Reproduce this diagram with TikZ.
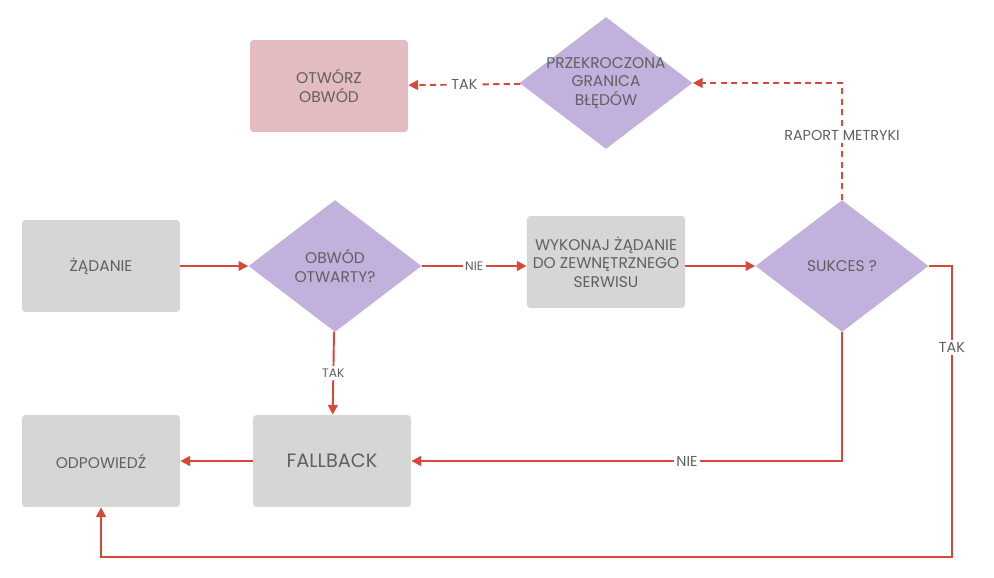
\documentclass[tikz,border=0pt]{standalone}
\usepackage{fontspec}
\setmainfont{Poppins}
\usepackage{tikz}
\usepackage{xcolor}
\usetikzlibrary{shapes.geometric, arrows.meta}
\definecolor{flowred}{RGB}{214, 72, 58}
\definecolor{boxgrey}{RGB}{214, 214, 214}
\definecolor{decpurple}{RGB}{195, 177, 221}
\definecolor{alarmpink}{RGB}{226, 188, 193}
\definecolor{txtgrey}{RGB}{96, 96, 96}

\begin{document}
\begin{tikzpicture}[
    x=0.02cm, y=-0.02cm,
    font=\fontsize{8.8}{10.6}\selectfont,
    text=txtgrey,
    step box/.style={rectangle, rounded corners=2pt, fill=#1,
        minimum width=3.16cm, minimum height=1.84cm, align=center},
    step box/.default=boxgrey,
    decision/.style={diamond, fill=decpurple, inner sep=0pt,
        minimum width=3.46cm, minimum height=2.64cm,
        label={[align=center, text=txtgrey]center:#1}},
    flow/.style={draw=flowred, line width=1.1pt,
        -{Triangle[length=5.5pt, width=5.5pt]}},
    report/.style={flow, dash pattern=on 3.5pt off 2.5pt},
    tag/.style={fill=white, inner sep=1.5pt, font=\fontsize{8.2}{9}\selectfont},
    small tag/.style={tag, font=\fontsize{7}{8}\selectfont}
]
    \useasboundingbox (0,0) rectangle (994,578);

    % ==========================================
    % MAIN ROW
    % ==========================================
    \node[step box] (request) at (101,266) {ŻĄDANIE};
    \node[decision={OBWÓD\\OTWARTY?}] (isopen) at (335,266) {};
    \node[step box] (call) at (606,262) {WYKONAJ ŻĄDANIE\\DO ZEWNĘTRZNEGO\\SERWISU};
    \node[decision={SUKCES ?}] (success) at (842,266) {};

    % ==========================================
    % TOP ROW (metrics)
    % ==========================================
    \node[decision={PRZEKROCZONA\\GRANICA\\BŁĘDÓW}] (limit) at (606,83) {};
    \node[step box=alarmpink] (trip) at (329,86) {OTWÓRZ\\OBWÓD};

    % ==========================================
    % BOTTOM ROW
    % ==========================================
    \node[step box] (answer) at (101,461) {ODPOWIEDŹ};
    \node[step box] (fallback) at (332,461) {\fontsize{11}{13}\selectfont FALLBACK};

    \coordinate (loop_r) at (952,557);

    % ==========================================
    % CONNECTORS
    % ==========================================
    \draw[flow] (request) -- (isopen);
    \draw[flow] (isopen) -- node[small tag] {NIE} (isopen -| call.west);
    \draw[flow] (call.east |- success) -- (success);
    \draw[flow] (isopen) -- node[small tag] {TAK} (fallback);
    \draw[flow] (fallback) -- (answer);

    % Sukces: NIE -> fallback
    \draw[flow] (success.south) |- node[tag, pos=0.68] {NIE} (fallback.east);

    % Sukces: TAK -> odpowiedz
    \draw[flow] (success.east) -| node[tag, pos=0.64] {TAK} (loop_r) -| (answer.south);

    % Metrics (dashed)
    \draw[report] (success.north) |- node[tag, pos=0.275] {RAPORT METRYKI} (limit.east);
    \draw[report] (limit) -- node[tag] {TAK} (trip);

\end{tikzpicture}
\end{document}
